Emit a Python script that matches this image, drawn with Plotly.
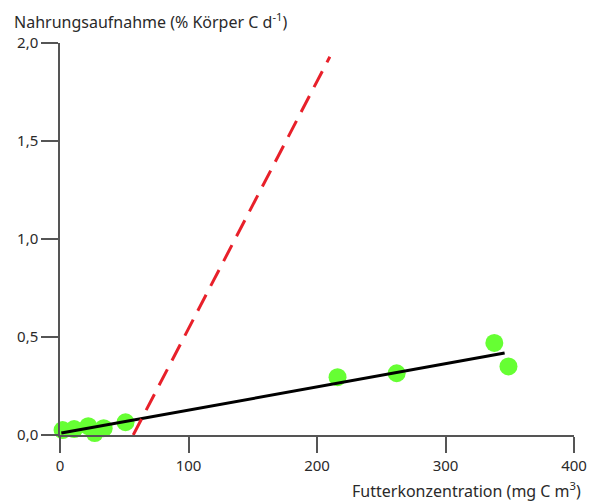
import plotly.graph_objects as go

# Measured data
food_conc = [2, 11, 22, 27, 34, 51, 216, 262, 338, 349]
uptake = [0.025, 0.03, 0.045, 0.01, 0.035, 0.065, 0.295, 0.315, 0.47, 0.35]

# Regression line (black) endpoints
reg_x = [1, 346]
reg_y = [0.01, 0.418]

# Red dashed line endpoints
red_x = [57, 210]
red_y = [0.0, 1.93]

x_ticks = [0, 100, 200, 300, 400]
y_ticks = [0.0, 0.5, 1.0, 1.5, 2.0]

FONT = "Noto Sans"
AX = "#2a2a2a"

fig = go.Figure()
fig.add_trace(go.Scatter(x=food_conc, y=uptake, mode="markers",
                         marker=dict(color="#66FF33", size=18, line=dict(width=0)),
                         cliponaxis=False, showlegend=False))
fig.add_trace(go.Scatter(x=reg_x, y=reg_y, mode="lines",
                         line=dict(color="black", width=3), cliponaxis=False, showlegend=False))
fig.add_trace(go.Scatter(x=red_x, y=red_y, mode="lines",
                         line=dict(color="#E8202A", width=3, dash="18px,10px"),
                         cliponaxis=False, showlegend=False))

fig.update_layout(
    width=589, height=501,
    margin=dict(l=60, r=15, t=43, b=66, autoexpand=False),
    paper_bgcolor="white", plot_bgcolor="white",
    separators=",.",
    font=dict(family=FONT, size=16, color=AX),
    xaxis=dict(range=[0, 400], tickvals=x_ticks, showgrid=False, zeroline=False,
               automargin=False, ticklabeloverflow="allow",
               showline=True, linecolor="#555555", linewidth=1.5, ticks="outside",
               ticklen=16, tickwidth=1.5, tickcolor="#555555", tickfont=dict(size=15)),
    yaxis=dict(range=[0, 2], tickvals=y_ticks, tickformat=".1f", showgrid=False,
               automargin=False,
               zeroline=False, showline=True, linecolor="#555555", linewidth=1.5,
               ticks="outside", ticklen=17, tickwidth=1.5, tickcolor="#555555",
               tickfont=dict(size=15)),
    annotations=[
        dict(text="Nahrungsaufnahme (% Körper C d<sup>-1</sup>)", xref="paper", yref="paper",
             x=-48/514, y=1 + 22/392, xanchor="left", yanchor="middle", showarrow=False,
             font=dict(size=16, color=AX)),
        dict(text="Futterkonzentration (mg C m<sup>3</sup>)", xref="paper", yref="paper",
             x=1 + 9/514, y=-55/392, xanchor="right", yanchor="middle", showarrow=False,
             font=dict(size=16, color=AX)),
    ],
)

fig.write_html("out.html",
               config={"displayModeBar": False},
               post_script="document.body.style.margin='0';document.body.style.overflow='hidden';")
